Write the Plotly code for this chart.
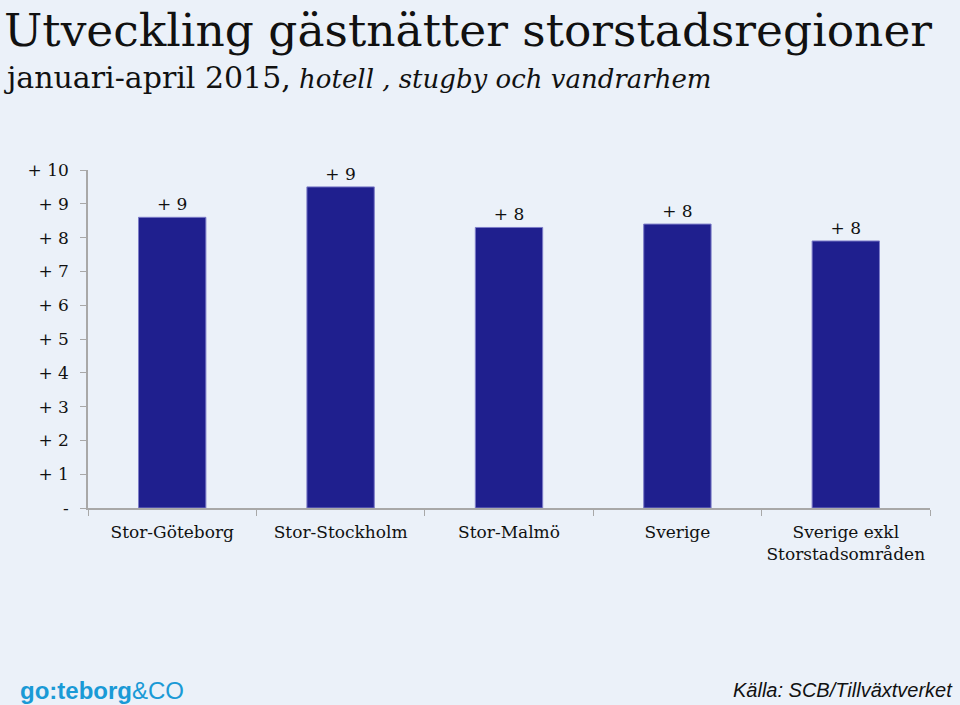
import plotly.graph_objects as go

categories = ["Stor-Göteborg", "Stor-Stockholm", "Stor-Malmö", "Sverige", "Sverige exkl<br>Storstadsområden"]
values = [8.6, 9.5, 8.3, 8.4, 7.9]
value_labels = ["+ 9", "+ 9", "+ 8", "+ 8", "+ 8"]
tick_vals = [0, 1, 2, 3, 4, 5, 6, 7, 8, 9, 10]
tick_text = ["-", "+ 1", "+ 2", "+ 3", "+ 4", "+ 5", "+ 6", "+ 7", "+ 8", "+ 9", "+ 10"]

BG = "#EBF1F9"
SERIF = "DejaVu Serif"
PW = 842
PH = 338

fig = go.Figure()
fig.add_trace(go.Bar(
    x=categories, y=values, text=value_labels, textposition="outside",
    textfont=dict(family=SERIF, size=17, color="#111111"),
    cliponaxis=False,
    marker=dict(color="#1F1F8E", line=dict(color="#7C7CC8", width=1)),
    width=0.4,
))

fig.update_layout(
    width=960, height=705,
    paper_bgcolor=BG, plot_bgcolor=BG,
    margin=dict(l=88, r=30, t=170, b=197),
    showlegend=False,
    xaxis=dict(
        showline=True, linecolor="#A8A8A8", linewidth=1.5,
        ticks="outside", tickson="boundaries", ticklen=6, tickcolor="#A8A8A8",
        tickfont=dict(family=SERIF, size=17, color="#111111"),
        ticklabelstandoff=8,
        showgrid=False,
    ),
    yaxis=dict(
        range=[0, 10], tickvals=tick_vals, ticktext=tick_text,
        showline=True, linecolor="#A8A8A8", linewidth=1.5,
        ticks="outside", ticklen=6, tickcolor="#A8A8A8",
        tickfont=dict(family=SERIF, size=17, color="#111111"),
        ticklabelstandoff=8,
        showgrid=False, zeroline=False,
    ),
    annotations=[
        dict(xref="paper", yref="paper", x=-86/PW, y=1 + 168/PH, xanchor="left", yanchor="top",
             text="Utveckling gästnätter storstadsregioner", showarrow=False,
             font=dict(family=SERIF, size=45.5, color="#111111")),
        dict(xref="paper", yref="paper", x=-86/PW, y=1 + 112/PH, xanchor="left", yanchor="top",
             text="<span style='font-size:30px'>januari-april 2015,</span> <i>hotell , stugby och vandrarhem</i>",
             showarrow=False,
             font=dict(family=SERIF, size=26, color="#111111")),
        dict(xref="paper", yref="paper", x=-70/PW, y=-182/PH, xanchor="left", yanchor="middle",
             text="<b>go:teborg</b>&CO", showarrow=False,
             font=dict(family="Liberation Sans", size=24, color="#1A9AD6")),
        dict(xref="paper", yref="paper", x=1 + 25/PW, y=-182/PH, xanchor="right", yanchor="middle",
             text="<i>Källa: SCB/Tillväxtverket</i>", showarrow=False,
             font=dict(family="Liberation Sans", size=20, color="#111111")),
    ],
)

fig.write_html("out.html", config={"displayModeBar": False},
               post_script="document.body.style.margin='0';")
